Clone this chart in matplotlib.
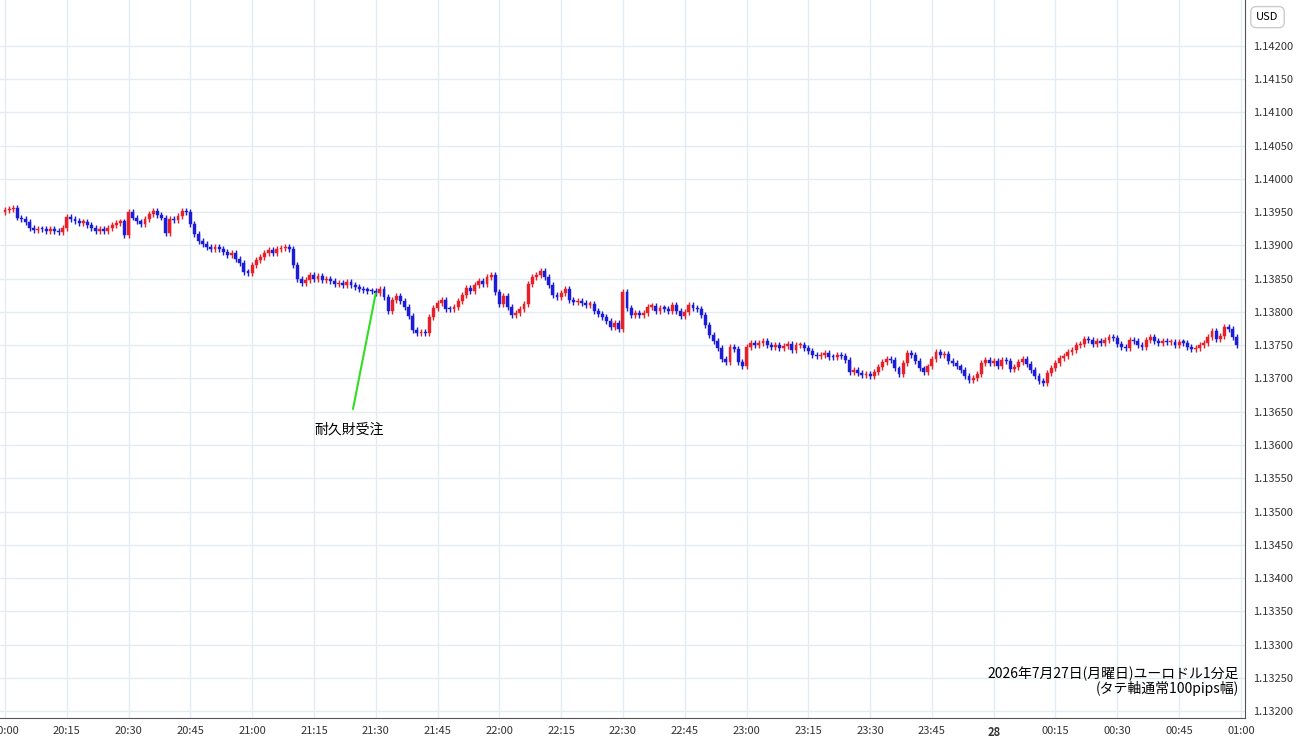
import matplotlib
matplotlib.use("Agg")
import matplotlib.pyplot as plt
import numpy as np

plt.rcParams['font.family'] = ['Noto Sans CJK JP', 'DejaVu Sans']

# closes in pips above 1.13000, one per minute from 20:00
closes = [
 95.3,95.5,95.6,94.2,94.0,93.5,92.6,92.3,92.5,92.4,92.2,92.5,92.2,92.0,92.6,
 94.3,94.0,93.7,93.4,93.5,93.0,92.6,92.2,92.5,92.2,92.6,93.1,93.4,93.6,91.5,
 95.0,94.2,93.6,93.2,94.0,94.8,95.2,94.6,94.2,91.8,94.0,93.8,94.4,95.2,95.0,
 93.2,91.7,90.6,90.2,89.8,89.4,89.8,89.5,89.0,88.6,88.8,88.0,87.4,86.0,85.9,
 87.0,87.8,88.2,88.8,89.3,88.9,89.4,89.6,89.8,89.5,87.0,85.0,84.4,84.8,85.6,
 85.0,85.4,84.8,85.0,84.6,84.2,84.4,84.0,84.5,84.1,83.7,83.5,83.3,83.2,83.1,
 82.8,83.4,82.2,80.2,81.8,82.4,81.6,80.8,79.4,77.3,76.8,77.0,76.8,79.3,80.6,
 81.3,81.8,80.5,80.4,80.8,81.6,82.6,83.6,83.2,84.0,84.6,84.2,85.2,85.6,83.0,
 81.2,82.4,80.8,79.6,79.8,80.4,81.2,84.2,85.3,85.5,86.1,85.3,84.0,82.6,82.2,
 82.8,83.4,81.8,81.5,81.6,81.4,81.1,81.2,80.1,79.7,79.3,78.6,77.7,78.3,77.5,
 83.0,80.6,79.6,79.8,79.6,79.9,80.8,80.9,80.2,80.6,80.5,80.1,81.0,80.2,79.4,
 80.0,81.0,80.6,80.4,79.6,78.0,76.6,75.6,74.6,73.0,72.5,74.8,74.4,72.5,71.8,
 74.8,75.3,75.0,75.4,75.6,75.0,74.8,75.1,74.6,74.9,75.2,74.3,75.0,75.1,74.6,
 74.2,73.6,73.4,73.6,73.8,73.3,73.2,73.6,73.4,72.8,71.0,71.2,70.8,70.5,70.6,
 70.4,71.0,71.7,72.5,73.0,72.8,71.5,70.6,72.3,73.8,73.6,72.6,71.5,70.9,71.8,
 73.0,74.0,73.5,73.7,72.6,72.3,71.8,71.2,70.4,69.8,70.1,70.6,72.4,72.8,72.3,
 72.6,71.8,72.8,72.6,71.4,71.7,72.5,72.9,72.2,71.2,70.4,69.6,69.3,70.8,71.6,
 72.4,73.1,73.4,74.0,74.3,75.0,75.2,76.0,75.8,75.2,75.7,75.4,75.8,76.3,76.1,
 75.2,74.8,74.6,75.8,75.6,75.0,74.8,75.8,76.2,75.6,75.4,75.6,75.5,75.5,75.1,
 75.5,75.4,74.8,74.4,74.6,75.0,75.4,76.2,77.2,76.0,76.4,77.8,77.4,76.2,75.1]
first_open = 95.0
xtick_labels = ["20:00","20:15","20:30","20:45","21:00","21:15","21:30","21:45","22:00",
                "22:15","22:30","22:45","23:00","23:15","23:30","23:45","28","00:15",
                "00:30","00:45","01:00"]
ytick_labels = ["1.13200","1.13250","1.13300","1.13350","1.13400","1.13450","1.13500",
                "1.13550","1.13600","1.13650","1.13700","1.13750","1.13800","1.13850",
                "1.13900","1.13950","1.14000","1.14050","1.14100","1.14150","1.14200"]
event_label = "耐久財受注"
event_index = 90
title_text = "2026年7月27日(月曜日)ユーロドル1分足\n(タテ軸通常100pips幅)"

closes = np.array(closes)
opens = np.concatenate([[first_open], closes[:-1]])
wick = 0.45
highs = np.maximum(opens, closes) + wick
lows = np.minimum(opens, closes) - wick

fig = plt.figure(figsize=(13, 7.45), dpi=100)
ax = fig.add_axes([0, 0.0362, 0.9577, 0.9638])
RED, BLUE = '#e8202a', '#1c1cd8'
x = np.arange(len(closes))
for i in x:
    c = RED if closes[i] >= opens[i] else BLUE
    ax.vlines(i, lows[i], highs[i], color=c, lw=1)
    b = min(opens[i], closes[i]); h = max(abs(closes[i]-opens[i]), 0.2)
    ax.bar(i, h, bottom=b, width=0.7, color=c, edgecolor=c, lw=0.3)

ax.set_xlim(-1.2, 301)
ax.set_ylim(18.95, 126.9)
ax.set_xticks(np.arange(0, 301, 15))
ax.set_xticklabels(xtick_labels)
yt = np.arange(20, 121, 5)
ax.set_yticks(yt)
ax.set_yticklabels(ytick_labels)
ax.yaxis.tick_right()
ax.tick_params(axis='both', length=0, labelsize=8, colors='#333333')
ax.tick_params(axis='y', pad=6)
ax.tick_params(axis='x', pad=6)
for lbl in ax.get_xticklabels():
    if lbl.get_text() == "28":
        lbl.set_fontweight('bold')
ax.grid(True, color='#e3ecf1', lw=1)
ax.set_axisbelow(True)
for s in ['top', 'left']:
    ax.spines[s].set_visible(False)
ax.spines['bottom'].set_color('#555555')
ax.spines['right'].set_color('#555555')

ax.annotate(event_label, xy=(event_index, closes[event_index]), xytext=(event_index-6.5, 62.3),
            ha='center', va='center', fontsize=10,
            arrowprops=dict(arrowstyle='-', color='#33dd22', lw=1.5, shrinkA=8, shrinkB=0))
ax.text(299.5, 22.3, title_text, ha='right', va='bottom', fontsize=10, linespacing=1.0)
fig.text(0.975, 0.977, "USD", ha='center', va='center', fontsize=8,
         bbox=dict(boxstyle='round,pad=0.5', fc='white', ec='#cccccc'))
fig.savefig("out.png", dpi=100)
